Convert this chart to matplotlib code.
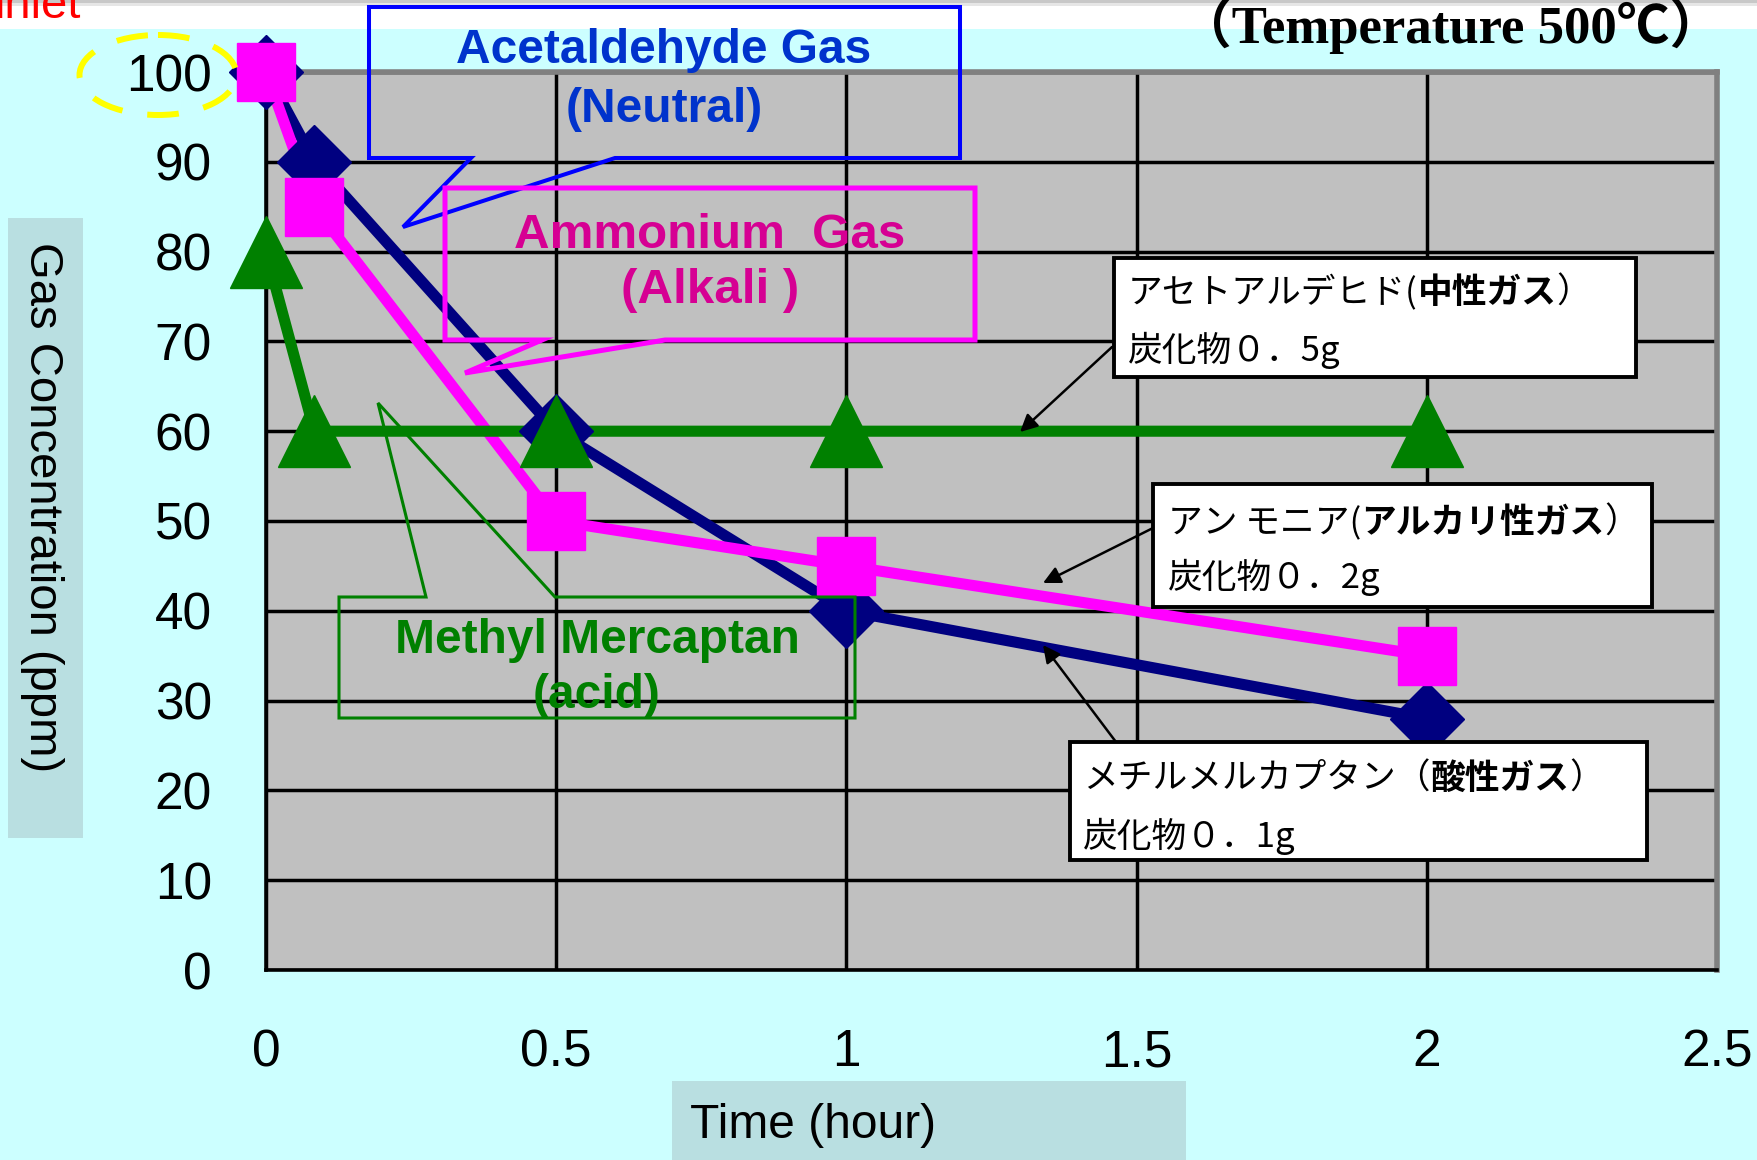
import matplotlib
matplotlib.use("Agg")
import matplotlib.pyplot as plt
from matplotlib.patches import Rectangle, Ellipse, Polygon
from matplotlib.offsetbox import TextArea, HPacker, AnnotationBbox

# ---- data -------------------------------------------------------------
time_h = [0, 5 / 60, 0.5, 1, 2]
acetaldehyde = [100, 90, 60, 40, 28]
ammonium = [100, 85, 50, 45, 35]
mercaptan = [80, 60, 60, 60, 60]

y_ticks = list(range(0, 101, 10))
x_ticks = [0, 0.5, 1, 1.5, 2, 2.5]
x_tick_labels = ["0", "0.5", "1", "1.5", "2", "2.5"]

SANS = ["Liberation Sans", "DejaVu Sans"]
JP = ["Noto Sans CJK JP", "DejaVu Sans"]

W, H = 1758, 1160
fig = plt.figure(figsize=(W / 100, H / 100), dpi=100, facecolor="#CCFFFF")

# ---- main plot ----------------------------------------------------------
L, R, T, B = 266, 1717, 72, 970
ax = fig.add_axes([L / W, 1 - B / H, (R - L) / W, (B - T) / H])
ax.set_facecolor("#C0C0C0")
ax.set_xlim(0, 2.5)
ax.set_ylim(0, 100)
ax.set_xticks(x_ticks)
ax.set_xticklabels(x_tick_labels)
ax.set_yticks(y_ticks)
ax.set_axisbelow(True)
ax.grid(True, color="black", linewidth=2.5)
ax.tick_params(axis="both", length=0, labelsize=37)
ax.tick_params(axis="y", pad=39)
ax.tick_params(axis="x", pad=42)
for lab in ax.get_xticklabels() + ax.get_yticklabels():
    lab.set_family(SANS)
for side in ("left", "bottom"):
    ax.spines[side].set_color("black")
    ax.spines[side].set_linewidth(2.6)
for side in ("top", "right"):
    ax.spines[side].set_color("#808080")
    ax.spines[side].set_linewidth(4)

series = [
    (acetaldehyde, "#000080", "D", 38),
    (ammonium, "#FF00FF", "s", 42),
    (mercaptan, "#008000", "^", 52),
]
for vals, col, _, _ in series:
    ax.plot(time_h, vals, color=col, lw=8, zorder=3, clip_on=False,
            solid_joinstyle="miter")
for vals, col, mk, ms in series:
    ax.plot(time_h, vals, ls="none", marker=mk, ms=ms, color=col, mec=col,
            zorder=4, clip_on=False)

# ---- overlay in pixel coordinates for labels and callouts -------------
ov = fig.add_axes([0, 0, 1, 1], zorder=5)
ov.set_xlim(0, W)
ov.set_ylim(H, 0)
ov.axis("off")
ov.patch.set_visible(False)

# white strip along the top edge with a faint shadow
ov.add_patch(Rectangle((0, 0), W, 29, fc="white", ec="none", zorder=1))
ov.add_patch(Rectangle((0, 0), W, 3, fc="#C8C8C8", ec="none", zorder=1))
ov.add_patch(Rectangle((0, 3), W, 3, fc="#E6E6E6", ec="none", zorder=1))

ov.text(-5, 18, "inlet", color="#FF0000", fontsize=34, family=SANS,
        ha="left", va="baseline", zorder=2)

ov.text(1722, 43, "（Temperature 500℃）", fontsize=38, fontweight="bold",
        family=["Liberation Serif", "Noto Sans CJK JP"], ha="right",
        va="baseline", zorder=2)

# axis titles on tinted panels
ov.add_patch(Rectangle((8, 218), 75, 620, fc="#B9DFE1", ec="none", zorder=1))
ov.text(42, 507, "Gas Concentration (ppm)", rotation=270, fontsize=34,
        family=SANS, ha="center", va="center", zorder=2)
ov.add_patch(Rectangle((672, 1081), 514, 79, fc="#B9DFE1", ec="none", zorder=1))
ov.text(690, 1125, "Time (hour)", fontsize=34.5, family=SANS, ha="left",
        va="center", zorder=2)

# dashed highlight around the 100 tick
ov.add_patch(Ellipse((158, 75), 157, 80, fill=False, ec="#FFFF00", lw=4.3,
                     ls=(0, (5.3, 4.2)), zorder=3))

# ---- callouts naming each gas ----------------------------------------
ov.add_patch(Polygon([(369, 7), (960, 7), (960, 158), (615, 158), (403, 227),
                      (471, 158), (369, 158)], closed=True, fill=False,
                     ec="#0000FF", lw=2.9, zorder=4))
ov.text(664, 63, "Acetaldehyde Gas", color="#0033CC", fontsize=34.5,
        fontweight="bold", family=SANS, ha="center", va="baseline", zorder=4)
ov.text(664, 122, "(Neutral)", color="#0033CC", fontsize=34.5,
        fontweight="bold", family=SANS, ha="center", va="baseline", zorder=4)

ov.add_patch(Polygon([(445, 188), (975, 188), (975, 340), (665, 340), (465, 373),
                      (542, 340), (445, 340)], closed=True, fill=False,
                     ec="#FF00FF", lw=3.6, zorder=4))
ov.text(710, 248, "Ammonium  Gas", color="#D60093", fontsize=35.5,
        fontweight="bold", family=SANS, ha="center", va="baseline", zorder=4)
ov.text(710, 303, "(Alkali )", color="#D60093", fontsize=35.5,
        fontweight="bold", family=SANS, ha="center", va="baseline", zorder=4)

ov.add_patch(Polygon([(339, 597), (426, 597), (378, 403), (555, 597), (855, 597),
                      (855, 718), (339, 718)], closed=True, fill=False,
                     ec="#008000", lw=2.2, zorder=4))
ov.text(597, 653, "Methyl Mercaptan", color="#008000", fontsize=34.5,
        fontweight="bold", family=SANS, ha="center", va="baseline", zorder=4)
ov.text(597, 708, "(acid)", color="#008000", fontsize=34.5,
        fontweight="bold", family=SANS, ha="center", va="baseline", zorder=4)


# ---- Japanese note boxes with arrows ---------------------------------
def jp_line(x, y, parts, size=25):
    areas = [TextArea(t, textprops=dict(fontsize=size, fontweight=w,
                                        family=JP, color="black"))
             for t, w in parts]
    packed = HPacker(children=areas, pad=0, sep=0, align="baseline")
    ab = AnnotationBbox(packed, (x, y), xycoords="data",
                        box_alignment=(0, 0.5), frameon=False, pad=0)
    ab.set_zorder(7)
    ov.add_artist(ab)


notes = [
    dict(box=(1114, 258, 522, 119), x=1128, y1=293, y2=350,
         line1=[("アセトアルデヒド(", "normal"), ("中性ガス", "bold"), ("）", "normal")],
         line2="炭化物０．5g", start=(1112, 347), tip=(1020, 432)),
    dict(box=(1153, 484, 499, 123), x=1168, y1=523, y2=577,
         line1=[("アン モニア(", "normal"), ("アルカリ性ガス", "bold"), ("）", "normal")],
         line2="炭化物０．2g", start=(1155, 527), tip=(1043, 583)),
    dict(box=(1070, 742, 577, 118), x=1083, y1=779, y2=836,
         line1=[("メチルメルカプタン（", "normal"), ("酸性ガス", "bold"), ("）", "normal")],
         line2="炭化物０．1g", start=(1116, 742), tip=(1043, 645)),
]
for n in notes:
    bx, by, bw, bh = n["box"]
    ov.annotate("", xy=n["tip"], xytext=n["start"], zorder=5,
                arrowprops=dict(arrowstyle="-|>", color="black", lw=1.8,
                                mutation_scale=26, shrinkA=0, shrinkB=0))
    ov.add_patch(Rectangle((bx, by), bw, bh, fc="white", ec="black", lw=2.8,
                           zorder=6))
    jp_line(n["x"], n["y1"], n["line1"])
    jp_line(n["x"], n["y2"], [(n["line2"], "normal")])

fig.savefig("out.png", dpi=100, facecolor=fig.get_facecolor())
